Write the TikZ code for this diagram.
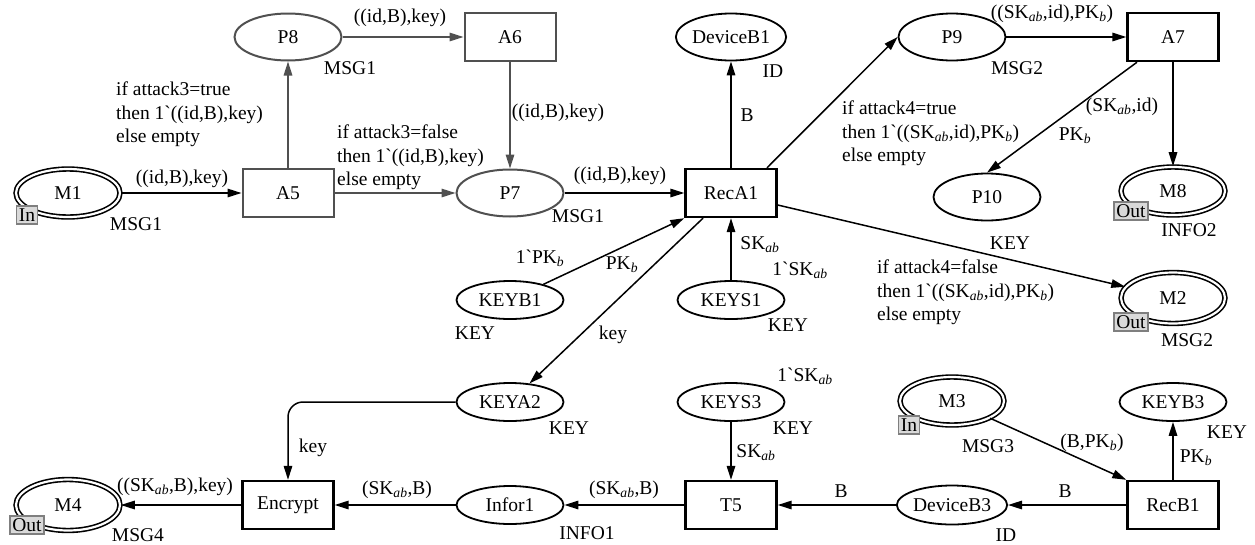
\documentclass[tikz,border=0pt]{standalone}
\usepackage{fontspec}
\setmainfont{Liberation Serif}
\usetikzlibrary{arrows.meta,calc,shapes.geometric}
\definecolor{netgray}{HTML}{505050}
\definecolor{tagfill}{HTML}{D9D9D9}
\definecolor{tagline}{HTML}{7F7F7F}
\newcommand{\skab}{SK\textsubscript{\textit{ab}}}
\newcommand{\pkb}{PK\textsubscript{\textit{b}}}
% plain grave accent glyph, bypassing the TeX quote mapping
\newcommand{\bq}{\XeTeXglyph\XeTeXcharglyph"0060\relax}
\begin{document}
\begin{tikzpicture}[x=1pt,y=-1pt,
  font=\fontsize{19.5}{23.5}\selectfont,
  place/.style={ellipse,draw,line width=1.8pt,inner sep=0pt,minimum width=107pt,minimum height=47pt},
  smallplace/.style={place,minimum height=38pt},
  portplace/.style={ellipse,draw,double,double distance=2.2pt,line width=1.6pt,inner sep=0pt,minimum width=104pt,minimum height=48pt},
  trans/.style={rectangle,draw,line width=2.4pt,inner sep=0pt,minimum width=91pt,minimum height=48pt},
  gplace/.style={place,draw=netgray,line width=2pt},
  gtrans/.style={trans,draw=netgray,line width=2pt},
  arc/.style={-{Triangle[length=14pt,width=8.5pt]},line width=1.5pt},
  garc/.style={arc,draw=netgray},
  tag/.style={draw=tagline,fill=tagfill,line width=1.5pt,inner xsep=2.5pt,inner ysep=0pt,minimum height=18pt},
  lbl/.style={inner sep=0pt},
  guard/.style={inner sep=0pt,align=left,anchor=north west}]
\useasboundingbox (0,0) rectangle (1255,544);

% ---- places ----
\node[portplace] (M1) at (68,193) {M1};
\node[gplace] (P8) at (288,37) {P8};
\node[gplace] (P7) at (510,193) {P7};
\node[place] (DeviceB1) at (731,37) {DeviceB1};
\node[place] (P9) at (952,37) {P9};
\node[place] (P10) at (987,197) {P10};
\node[portplace] (M8) at (1173,191) {M8};
\node[portplace,minimum height=51pt] (M2) at (1173,298) {M2};
\node[smallplace] (KEYB1) at (510,300) {KEYB1};
\node[smallplace] (KEYS1) at (731,300) {KEYS1};
\node[smallplace] (KEYA2) at (510,402) {KEYA2};
\node[smallplace] (KEYS3) at (731,402) {KEYS3};
\node[portplace] (M3) at (952,401) {M3};
\node[smallplace] (KEYB3) at (1173,402) {KEYB3};
\node[portplace,minimum height=51pt] (M4) at (68,505) {M4};
\node[smallplace] (Infor1) at (510,505) {Infor1};
\node[smallplace,minimum height=39pt] (DeviceB3) at (952,505) {DeviceB3};

% ---- transitions ----
\node[gtrans] (A5) at (288,193) {A5};
\node[gtrans] (A6) at (510,37) {A6};
\node[trans] (RecA1) at (731,193) {RecA1};
\node[trans] (A7) at (1173,37) {A7};
\node[trans] (Encrypt) at (288,505) {Encrypt};
\node[trans] (T5) at (731,505) {T5};
\node[trans] (RecB1) at (1173,505) {RecB1};

% ---- port tags ----
\node[tag] (tagM1) at (27,215) {In};
\node[tag] (tagM8) at (1131,211) {Out};
\node[tag] (tagM2) at (1131,322) {Out};
\node[tag] (tagM3) at (909,425) {In};
\node[tag] (tagM4) at (27,525) {Out};

% ---- colour sets ----
\node[lbl] (csM1) at (136,224) {MSG1};
\node[lbl] (csP8) at (350,68) {MSG1};
\node[lbl] (csP7) at (578,216) {MSG1};
\node[lbl] (csDB1) at (773,71) {ID};
\node[lbl] (csP9) at (1017,68) {MSG2};
\node[lbl] (csM8) at (1189,230) {INFO2};
\node[lbl] (csP10) at (1010,243) {KEY};
\node[lbl] (csM2) at (1187,340) {MSG2};
\node[lbl] (csKB1) at (475,333) {KEY};
\node[lbl] (csKS1) at (788,325) {KEY};
\node[lbl] (csKA2) at (569,428) {KEY};
\node[lbl] (csKS3) at (793,428) {KEY};
\node[lbl] (csM3) at (988,446) {MSG3};
\node[lbl] (csKB3) at (1227,432) {KEY};
\node[lbl] (csDB3) at (1006,535) {ID};
\node[lbl] (csInf) at (587,533) {INFO1};
\node[lbl] (csM4) at (138,535) {MSG4};

% ---- initial markings ----
\node[lbl] (imKB1) at (540,258) {1\bq\pkb};
\node[lbl] (imKS1) at (800,270) {1\bq\skab};
\node[lbl] (imKS3) at (805,376) {1\bq\skab};

% ---- arcs of the attacker part ----
\draw[arc] (M1) -- (A5);
\draw[garc] (A5) -- (P8);
\draw[garc] (A5) -- (P7);
\draw[garc] (P8) -- (A6);
\draw[garc] (A6) -- (P7);
\draw[arc] (P7) -- (RecA1);

% ---- arcs around RecA1 ----
\draw[arc] (RecA1) -- (DeviceB1);
\draw[arc] ($(RecA1.north)+(36,0)$) -- (P9.west);
\draw[arc] (P9) -- (A7);
\draw[arc] ($(A7.south)+(-36,0)$) -- (P10.north);
\draw[arc] (A7) -- (M8);
\draw[arc] ($(RecA1.east)+(0,12)$) -- (M2);
\draw[arc] (KEYB1) -- (RecA1.south west);
\draw[arc] (KEYS1) -- (RecA1);
\draw[arc] ($(RecA1.south)+(-28,0)$) -- (KEYA2);

% ---- lower chain ----
\draw[arc,rounded corners=15pt] (KEYA2.west) -| (Encrypt.north);
\draw[arc] (Encrypt) -- (M4);
\draw[arc] (Infor1) -- (Encrypt);
\draw[arc] (T5) -- (Infor1);
\draw[arc] (KEYS3) -- (T5);
\draw[arc] (DeviceB3) -- (T5);
\draw[arc] (RecB1) -- (DeviceB3);
\draw[arc] (RecB1) -- (KEYB3);
\draw[arc] (M3) -- (RecB1.north west);

% ---- arc inscriptions ----
\node[lbl] (aM1A5) at (182,179) {((id,B),key)};
\node[lbl] (aP8A6) at (400,18) {((id,B),key)};
\node[lbl] (aA6P7) at (558,113) {((id,B),key)};
\node[lbl] (aP7R) at (620,176) {((id,B),key)};
\node[guard] (aA5P8) at (116,82) {if attack3=true\\then 1\bq((id,B),key)\\else empty};
\node[guard] (aA5P7) at (337,125) {if attack3=false\\then 1\bq((id,B),key)\\else empty};
\node[lbl] (aRDB1) at (747,115) {B};
\node[guard] (aRP9) at (842,101) {if attack4=true\\then 1\bq((\skab,id),\pkb)\\else empty};
\node[lbl] (aP9A7) at (1052,14) {((\skab,id),\pkb)};
\node[lbl] (aA7M8) at (1122,107) {(\skab,id)};
\node[lbl] (aA7P10) at (1075,136) {\pkb};
\node[guard] (aRM2) at (877,260) {if attack4=false\\then 1\bq((\skab,id),\pkb)\\else empty};
\node[lbl] (aKB1R) at (622,265) {\pkb};
\node[lbl] (aRKA2) at (613,335) {key};
\node[lbl] (aKS1R) at (760,245) {\skab};
\node[lbl] (aKA2E) at (313,448) {key};
\node[lbl] (aKS3T5) at (756,453) {\skab};
\node[lbl] (aM3RB) at (1092,443) {(B,\pkb)};
\node[lbl] (aRBKB3) at (1196,458) {\pkb};
\node[lbl] (aRBDB3) at (1065,491) {B};
\node[lbl] (aDB3T5) at (841,491) {B};
\node[lbl] (aT5Inf) at (624,490) {(\skab,B)};
\node[lbl] (aInfE) at (397,490) {(\skab,B)};
\node[lbl] (aEM4) at (175,487) {((\skab,B),key)};
\end{tikzpicture}
\end{document}
